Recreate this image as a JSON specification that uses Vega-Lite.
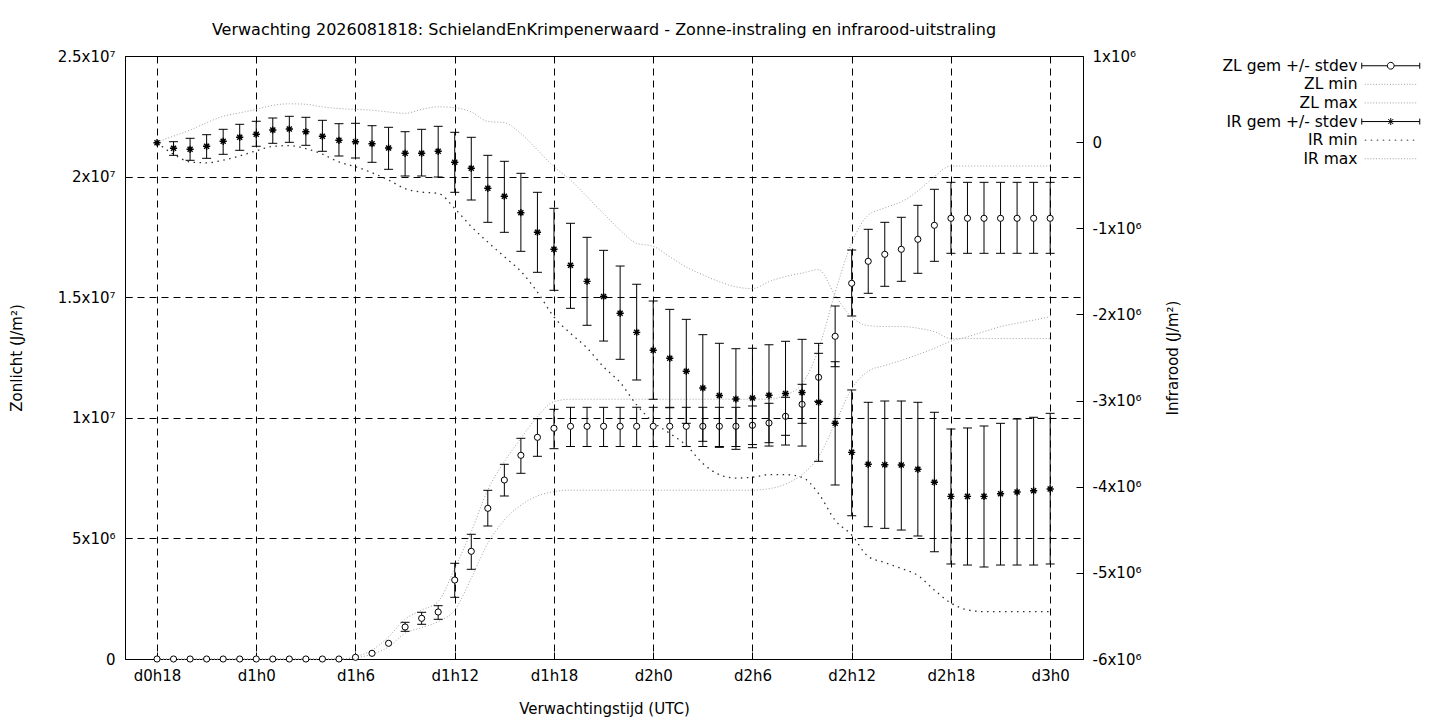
{
  "$schema": "https://vega.github.io/schema/vega-lite/v6.json",
  "width": 958,
  "height": 603,
  "autosize": {"type": "none"},
  "padding": {"left": 125, "top": 56, "right": 357, "bottom": 61},
  "background": "white",
  "title": {
    "text": "Verwachting 2026081818: SchielandEnKrimpenerwaard - Zonne-instraling en infrarood-uitstraling",
    "fontSize": 16, "fontWeight": "normal", "font": "DejaVu Sans", "color": "black",
    "anchor": "middle", "offset": 11
  },
  "data": {"values": [
    {"h":18,"zl":0,"zl_lo":null,"zl_hi":null,"zl_min":0,"zl_max":0,"ir":-6500,"ir_lo":null,"ir_hi":null,"ir_min":-7000,"ir_max":0},
    {"h":19,"zl":0,"zl_lo":null,"zl_hi":null,"zl_min":0,"zl_max":0,"ir":-71500,"ir_lo":-152800,"ir_hi":5100,"ir_min":-140000,"ir_max":70000},
    {"h":20,"zl":0,"zl_lo":null,"zl_hi":null,"zl_min":0,"zl_max":0,"ir":-83100,"ir_lo":-210800,"ir_hi":44600,"ir_min":-230000,"ir_max":140000},
    {"h":21,"zl":0,"zl_lo":null,"zl_hi":null,"zl_min":0,"zl_max":0,"ir":-48300,"ir_lo":-187600,"ir_hi":86400,"ir_min":-240000,"ir_max":226000},
    {"h":22,"zl":0,"zl_lo":null,"zl_hi":null,"zl_min":0,"zl_max":0,"ir":9800,"ir_lo":-141200,"ir_hi":149000,"ir_min":-210000,"ir_max":300000},
    {"h":23,"zl":0,"zl_lo":null,"zl_hi":null,"zl_min":0,"zl_max":0,"ir":56200,"ir_lo":-94700,"ir_hi":207100,"ir_min":-160000,"ir_max":340000},
    {"h":24,"zl":0,"zl_lo":null,"zl_hi":null,"zl_min":0,"zl_max":0,"ir":91000,"ir_lo":-48300,"ir_hi":241900,"ir_min":-100000,"ir_max":380000},
    {"h":25,"zl":0,"zl_lo":null,"zl_hi":null,"zl_min":0,"zl_max":0,"ir":140900,"ir_lo":-13500,"ir_hi":280200,"ir_min":-50000,"ir_max":427000},
    {"h":26,"zl":0,"zl_lo":null,"zl_hi":null,"zl_min":0,"zl_max":0,"ir":152500,"ir_lo":-1900,"ir_hi":300000,"ir_min":-40000,"ir_max":445000},
    {"h":27,"zl":0,"zl_lo":null,"zl_hi":null,"zl_min":0,"zl_max":0,"ir":121200,"ir_lo":-36700,"ir_hi":288400,"ir_min":-75000,"ir_max":440000},
    {"h":28,"zl":0,"zl_lo":null,"zl_hi":null,"zl_min":0,"zl_max":0,"ir":67800,"ir_lo":-106300,"ir_hi":253500,"ir_min":-140000,"ir_max":410000},
    {"h":29,"zl":0,"zl_lo":null,"zl_hi":null,"zl_min":0,"zl_max":0,"ir":21400,"ir_lo":-160900,"ir_hi":214100,"ir_min":-230000,"ir_max":390000},
    {"h":30,"zl":70000,"zl_lo":null,"zl_hi":null,"zl_min":50000,"zl_max":100000,"ir":5100,"ir_lo":-184100,"ir_hi":218700,"ir_min":-285000,"ir_max":380000},
    {"h":31,"zl":236000,"zl_lo":null,"zl_hi":null,"zl_min":200000,"zl_max":370000,"ir":-18100,"ir_lo":-234000,"ir_hi":190900,"ir_min":-355000,"ir_max":370000},
    {"h":32,"zl":651000,"zl_lo":null,"zl_hi":null,"zl_min":500000,"zl_max":920000,"ir":-68000,"ir_lo":-315300,"ir_hi":172300,"ir_min":-440000,"ir_max":350000},
    {"h":33,"zl":1327000,"zl_lo":1148000,"zl_hi":1522000,"zl_min":1070000,"zl_max":1650000,"ir":-129600,"ir_lo":-393100,"ir_hi":121200,"ir_min":-540000,"ir_max":334000},
    {"h":34,"zl":1687000,"zl_lo":1439000,"zl_hi":1936000,"zl_min":1300000,"zl_max":2030000,"ir":-129600,"ir_lo":-393100,"ir_hi":149000,"ir_min":-580000,"ir_max":380000},
    {"h":35,"zl":1949000,"zl_lo":1646000,"zl_hi":2210000,"zl_min":1550000,"zl_max":2380000,"ir":-106300,"ir_lo":-404700,"ir_hi":183900,"ir_min":-595000,"ir_max":410000},
    {"h":36,"zl":3275000,"zl_lo":2558000,"zl_hi":3968000,"zl_min":2030000,"zl_max":3760000,"ir":-234000,"ir_lo":-582300,"ir_hi":114200,"ir_min":-770000,"ir_max":400000},
    {"h":37,"zl":4465000,"zl_lo":3719000,"zl_hi":5170000,"zl_min":3350000,"zl_max":5280000,"ir":-303700,"ir_lo":-671700,"ir_hi":56200,"ir_min":-980000,"ir_max":350000},
    {"h":38,"zl":6248000,"zl_lo":5514000,"zl_hi":6994000,"zl_min":4800000,"zl_max":7010000,"ir":-535900,"ir_lo":-930600,"ir_hi":-152800,"ir_min":-1160000,"ir_max":240000},
    {"h":39,"zl":7421000,"zl_lo":6758000,"zl_hi":8072000,"zl_min":5760000,"zl_max":8180000,"ir":-628700,"ir_lo":-1046700,"ir_hi":-222400,"ir_min":-1330000,"ir_max":226000},
    {"h":40,"zl":8445000,"zl_lo":7699000,"zl_hi":9150000,"zl_min":6380000,"zl_max":9150000,"ir":-819100,"ir_lo":-1267300,"ir_hi":-361700,"ir_min":-1500000,"ir_max":100000},
    {"h":41,"zl":9191000,"zl_lo":8404000,"zl_hi":9963000,"zl_min":6760000,"zl_max":10050000,"ir":-1046700,"ir_lo":-1511000,"ir_hi":-582300,"ir_min":-1740000,"ir_max":-90000},
    {"h":42,"zl":9565000,"zl_lo":8719000,"zl_hi":10352000,"zl_min":6940000,"zl_max":10670000,"ir":-1244000,"ir_lo":-1720000,"ir_hi":-768000,"ir_min":-2030000,"ir_max":-285000},
    {"h":43,"zl":9648000,"zl_lo":8810000,"zl_hi":10435000,"zl_min":7000000,"zl_max":10770000,"ir":-1430000,"ir_lo":-1929000,"ir_hi":-942000,"ir_min":-2220000,"ir_max":-440000},
    {"h":44,"zl":9648000,"zl_lo":8810000,"zl_hi":10435000,"zl_min":7000000,"zl_max":10770000,"ir":-1616000,"ir_lo":-2126000,"ir_hi":-1105000,"ir_min":-2390000,"ir_max":-633000},
    {"h":45,"zl":9648000,"zl_lo":8810000,"zl_hi":10435000,"zl_min":7000000,"zl_max":10770000,"ir":-1792000,"ir_lo":-2309000,"ir_hi":-1256000,"ir_min":-2610000,"ir_max":-830000},
    {"h":46,"zl":9648000,"zl_lo":8810000,"zl_hi":10435000,"zl_min":7000000,"zl_max":10770000,"ir":-1987000,"ir_lo":-2521000,"ir_hi":-1438000,"ir_min":-2790000,"ir_max":-1020000},
    {"h":47,"zl":9648000,"zl_lo":8810000,"zl_hi":10435000,"zl_min":7000000,"zl_max":10770000,"ir":-2208000,"ir_lo":-2761000,"ir_hi":-1650000,"ir_min":-3050000,"ir_max":-1175000},
    {"h":48,"zl":9648000,"zl_lo":8810000,"zl_hi":10435000,"zl_min":7000000,"zl_max":10770000,"ir":-2415000,"ir_lo":-2985000,"ir_hi":-1844000,"ir_min":-3250000,"ir_max":-1210000},
    {"h":49,"zl":9648000,"zl_lo":8810000,"zl_hi":10435000,"zl_min":7000000,"zl_max":10770000,"ir":-2509000,"ir_lo":-3083000,"ir_hi":-1941000,"ir_min":-3380000,"ir_max":-1330000},
    {"h":50,"zl":9648000,"zl_lo":8810000,"zl_hi":10435000,"zl_min":7000000,"zl_max":10770000,"ir":-2660000,"ir_lo":-3264000,"ir_hi":-2057000,"ir_min":-3520000,"ir_max":-1450000},
    {"h":51,"zl":9648000,"zl_lo":8810000,"zl_hi":10435000,"zl_min":7000000,"zl_max":10770000,"ir":-2854000,"ir_lo":-3473000,"ir_hi":-2235000,"ir_min":-3730000,"ir_max":-1540000},
    {"h":52,"zl":9648000,"zl_lo":8810000,"zl_hi":10435000,"zl_min":7000000,"zl_max":10770000,"ir":-2941000,"ir_lo":-3543000,"ir_hi":-2335000,"ir_min":-3860000,"ir_max":-1620000},
    {"h":53,"zl":9648000,"zl_lo":8810000,"zl_hi":10435000,"zl_min":7000000,"zl_max":10770000,"ir":-2982000,"ir_lo":-3566000,"ir_hi":-2398000,"ir_min":-3900000,"ir_max":-1680000},
    {"h":54,"zl":9689000,"zl_lo":8890000,"zl_hi":10490000,"zl_min":7000000,"zl_max":10770000,"ir":-2970000,"ir_lo":-3547000,"ir_hi":-2393000,"ir_min":-3890000,"ir_max":-1700000},
    {"h":55,"zl":9784000,"zl_lo":8968000,"zl_hi":10601000,"zl_min":7060000,"zl_max":10770000,"ir":-2939000,"ir_lo":-3528000,"ir_hi":-2352000,"ir_min":-3860000,"ir_max":-1620000},
    {"h":56,"zl":10062000,"zl_lo":9274000,"zl_hi":10850000,"zl_min":7250000,"zl_max":10950000,"ir":-2918000,"ir_lo":-3516000,"ir_hi":-2312000,"ir_min":-3860000,"ir_max":-1560000},
    {"h":57,"zl":10560000,"zl_lo":9772000,"zl_hi":11389000,"zl_min":7650000,"zl_max":11400000,"ir":-2906000,"ir_lo":-3528000,"ir_hi":-2289000,"ir_min":-3890000,"ir_max":-1520000},
    {"h":58,"zl":11679000,"zl_lo":10684000,"zl_hi":12674000,"zl_min":8390000,"zl_max":12850000,"ir":-3020000,"ir_lo":-3705000,"ir_hi":-2336000,"ir_min":-4080000,"ir_max":-1480000},
    {"h":59,"zl":13379000,"zl_lo":12118000,"zl_hi":14635000,"zl_min":9770000,"zl_max":15200000,"ir":-3264000,"ir_lo":-3980000,"ir_hi":-2549000,"ir_min":-4390000,"ir_max":-1780000},
    {"h":60,"zl":15576000,"zl_lo":14220000,"zl_hi":16957000,"zl_min":11200000,"zl_max":17250000,"ir":-3601000,"ir_lo":-4337000,"ir_hi":-2877000,"ir_min":-4560000,"ir_max":-2030000},
    {"h":61,"zl":16488000,"zl_lo":15162000,"zl_hi":17815000,"zl_min":11930000,"zl_max":18400000,"ir":-3740000,"ir_lo":-4464000,"ir_hi":-3020000,"ir_min":-4810000,"ir_max":-2130000},
    {"h":62,"zl":16778000,"zl_lo":15452000,"zl_hi":18105000,"zl_min":12170000,"zl_max":18700000,"ir":-3745000,"ir_lo":-4483000,"ir_hi":-3005000,"ir_min":-4880000,"ir_max":-2140000},
    {"h":63,"zl":16986000,"zl_lo":15659000,"zl_hi":18313000,"zl_min":12380000,"zl_max":18960000,"ir":-3748000,"ir_lo":-4503000,"ir_hi":-3005000,"ir_min":-4950000,"ir_max":-2140000},
    {"h":64,"zl":17400000,"zl_lo":15991000,"zl_hi":18810000,"zl_min":12620000,"zl_max":19400000,"ir":-3798000,"ir_lo":-4572000,"ir_hi":-3020000,"ir_min":-5030000,"ir_max":-2160000},
    {"h":65,"zl":17981000,"zl_lo":16488000,"zl_hi":19474000,"zl_min":12880000,"zl_max":20000000,"ir":-3949000,"ir_lo":-4755000,"ir_hi":-3136000,"ir_min":-5200000,"ir_max":-2200000},
    {"h":66,"zl":18271000,"zl_lo":16820000,"zl_hi":19763000,"zl_min":13180000,"zl_max":20440000,"ir":-4112000,"ir_lo":-4897000,"ir_hi":-3330000,"ir_min":-5350000,"ir_max":-2280000},
    {"h":67,"zl":18271000,"zl_lo":16820000,"zl_hi":19763000,"zl_min":13360000,"zl_max":20440000,"ir":-4112000,"ir_lo":-4909000,"ir_hi":-3318000,"ir_min":-5430000,"ir_max":-2280000},
    {"h":68,"zl":18271000,"zl_lo":16820000,"zl_hi":19763000,"zl_min":13570000,"zl_max":20440000,"ir":-4112000,"ir_lo":-4932000,"ir_hi":-3295000,"ir_min":-5450000,"ir_max":-2280000},
    {"h":69,"zl":18271000,"zl_lo":16820000,"zl_hi":19763000,"zl_min":13780000,"zl_max":20440000,"ir":-4081000,"ir_lo":-4909000,"ir_hi":-3264000,"ir_min":-5450000,"ir_max":-2280000},
    {"h":70,"zl":18271000,"zl_lo":16820000,"zl_hi":19763000,"zl_min":13920000,"zl_max":20440000,"ir":-4062000,"ir_lo":-4909000,"ir_hi":-3214000,"ir_min":-5450000,"ir_max":-2280000},
    {"h":71,"zl":18271000,"zl_lo":16820000,"zl_hi":19763000,"zl_min":14050000,"zl_max":20440000,"ir":-4046000,"ir_lo":-4909000,"ir_hi":-3194000,"ir_min":-5450000,"ir_max":-2280000},
    {"h":72,"zl":18271000,"zl_lo":16820000,"zl_hi":19763000,"zl_min":14190000,"zl_max":20440000,"ir":-4027000,"ir_lo":-4897000,"ir_hi":-3148000,"ir_min":-5450000,"ir_max":-2280000}
  ]},
  "layer": [
    {
      "layer": [
        {
          "mark": {"type": "line", "stroke": "#a0a0a0", "strokeDash": [1, 2], "strokeWidth": 1, "interpolate": "monotone"},
          "encoding": {
            "x": {
              "field": "h", "type": "quantitative",
              "scale": {"domain": [16.065, 73.985], "nice": false, "zero": false},
              "axis": {
                "title": "Verwachtingstijd (UTC)",
                "values": [18, 24, 30, 36, 42, 48, 54, 60, 66, 72],
                "labelExpr": "'d' + floor(datum.value / 24) + 'h' + (datum.value % 24)",
                "grid": true, "gridColor": "black", "gridDash": [7, 5], "gridOpacity": 1, "gridWidth": 1,
                "tickSize": -7, "labelPadding": 16, "titlePadding": 18
              }
            },
            "y": {
              "field": "zl_min", "type": "quantitative",
              "scale": {"domain": [0, 25000000], "nice": false},
              "axis": {
                "orient": "left",
                "title": "Zonlicht (J/m²)",
                "values": [0, 5000000, 10000000, 15000000, 20000000, 25000000],
                "labelExpr": "datum.value == 0 ? '0' : datum.value < 10000000 ? (datum.value / 1000000) + 'x10⁶' : (datum.value / 10000000) + 'x10⁷'",
                "grid": true, "gridColor": "black", "gridDash": [7, 5], "gridOpacity": 1, "gridWidth": 1,
                "tickSize": -7, "labelPadding": 17, "titlePadding": 33
              }
            }
          }
        },
        {
          "mark": {"type": "line", "stroke": "#a0a0a0", "strokeDash": [1, 2], "strokeWidth": 1, "interpolate": "monotone"},
          "encoding": {
            "x": {"field": "h", "type": "quantitative"},
            "y": {"field": "zl_max", "type": "quantitative", "scale": {"domain": [0, 25000000], "nice": false}}
          }
        },
        {
          "mark": {"type": "rule", "color": "black", "strokeWidth": 1},
          "encoding": {
            "x": {"field": "h", "type": "quantitative"},
            "y": {"field": "zl_lo", "type": "quantitative", "scale": {"domain": [0, 25000000], "nice": false}},
            "y2": {"field": "zl_hi"}
          }
        },
        {
          "mark": {"type": "tick", "orient": "horizontal", "size": 9, "thickness": 1, "color": "black", "opacity": 1},
          "encoding": {
            "x": {"field": "h", "type": "quantitative"},
            "y": {"field": "zl_lo", "type": "quantitative", "scale": {"domain": [0, 25000000], "nice": false}}
          }
        },
        {
          "mark": {"type": "tick", "orient": "horizontal", "size": 9, "thickness": 1, "color": "black", "opacity": 1},
          "encoding": {
            "x": {"field": "h", "type": "quantitative"},
            "y": {"field": "zl_hi", "type": "quantitative", "scale": {"domain": [0, 25000000], "nice": false}}
          }
        },
        {
          "mark": {"type": "point", "shape": "circle", "size": 38, "filled": true, "fill": "white", "stroke": "black", "strokeWidth": 1, "opacity": 1},
          "encoding": {
            "x": {"field": "h", "type": "quantitative"},
            "y": {"field": "zl", "type": "quantitative", "scale": {"domain": [0, 25000000], "nice": false}}
          }
        }
      ]
    },
    {
      "layer": [
        {
          "mark": {"type": "line", "stroke": "#303030", "strokeDash": [1.5, 4.5], "strokeWidth": 1.3, "interpolate": "monotone"},
          "encoding": {
            "x": {"field": "h", "type": "quantitative"},
            "y": {
              "field": "ir_min", "type": "quantitative",
              "scale": {"domain": [-6000000, 1000000], "nice": false, "zero": false},
              "axis": {
                "orient": "right",
                "title": "Infrarood (J/m²)",
                "titleAngle": 270,
                "values": [-6000000, -5000000, -4000000, -3000000, -2000000, -1000000, 0, 1000000],
                "labelExpr": "datum.value == 0 ? '0' : (datum.value / 1000000) + 'x10⁶'",
                "grid": false, "tickSize": -7, "labelPadding": 16, "titlePadding": 40
              }
            }
          }
        },
        {
          "mark": {"type": "line", "stroke": "#a0a0a0", "strokeDash": [1, 2], "strokeWidth": 1, "interpolate": "monotone"},
          "encoding": {
            "x": {"field": "h", "type": "quantitative"},
            "y": {"field": "ir_max", "type": "quantitative", "scale": {"domain": [-6000000, 1000000], "nice": false, "zero": false}}
          }
        },
        {
          "mark": {"type": "rule", "color": "black", "strokeWidth": 1},
          "encoding": {
            "x": {"field": "h", "type": "quantitative"},
            "y": {"field": "ir_lo", "type": "quantitative", "scale": {"domain": [-6000000, 1000000], "nice": false, "zero": false}},
            "y2": {"field": "ir_hi"}
          }
        },
        {
          "mark": {"type": "tick", "orient": "horizontal", "size": 9, "thickness": 1, "color": "black", "opacity": 1},
          "encoding": {
            "x": {"field": "h", "type": "quantitative"},
            "y": {"field": "ir_lo", "type": "quantitative", "scale": {"domain": [-6000000, 1000000], "nice": false, "zero": false}}
          }
        },
        {
          "mark": {"type": "tick", "orient": "horizontal", "size": 9, "thickness": 1, "color": "black", "opacity": 1},
          "encoding": {
            "x": {"field": "h", "type": "quantitative"},
            "y": {"field": "ir_hi", "type": "quantitative", "scale": {"domain": [-6000000, 1000000], "nice": false, "zero": false}}
          }
        },
        {
          "mark": {"type": "point", "shape": "M-1,0L1,0M0,-1L0,1M-0.7,-0.7L0.7,0.7M-0.7,0.7L0.7,-0.7", "size": 52, "filled": false, "stroke": "black", "strokeWidth": 1.4, "opacity": 1},
          "encoding": {
            "x": {"field": "h", "type": "quantitative"},
            "y": {"field": "ir", "type": "quantitative", "scale": {"domain": [-6000000, 1000000], "nice": false, "zero": false}}
          }
        }
      ]
    },
    {
      "data": {"values": [
        {"s": "ZL gem +/- stdev"},
        {"s": "ZL min"},
        {"s": "ZL max"},
        {"s": "IR gem +/- stdev"},
        {"s": "IR min"},
        {"s": "IR max"}
      ]},
      "mark": {"type": "point", "filled": false, "opacity": 0},
      "encoding": {
        "shape": {
          "field": "s", "type": "nominal",
          "scale": {
            "domain": ["ZL gem +/- stdev", "ZL min", "ZL max", "IR gem +/- stdev", "IR min", "IR max"],
            "range": [
              "M-5.8,-0.6L-5.8,0.6M-5.8,0L-0.68,0M0.68,0L5.8,0M5.8,-0.6L5.8,0.6M0.68,0A0.68,0.68,0,1,1,-0.68,0A0.68,0.68,0,1,1,0.68,0",
              "M-5.2,0h0.2M-4.64,0h0.2M-4.08,0h0.2M-3.52,0h0.2M-2.96,0h0.2M-2.4,0h0.2M-1.84,0h0.2M-1.28,0h0.2M-0.72,0h0.2M-0.16,0h0.2M0.4,0h0.2M0.96,0h0.2M1.52,0h0.2M2.08,0h0.2M2.64,0h0.2M3.2,0h0.2M3.76,0h0.2M4.32,0h0.2M4.88,0h0.2",
              "M-5.2,0h0.2M-4.64,0h0.2M-4.08,0h0.2M-3.52,0h0.2M-2.96,0h0.2M-2.4,0h0.2M-1.84,0h0.2M-1.28,0h0.2M-0.72,0h0.2M-0.16,0h0.2M0.4,0h0.2M0.96,0h0.2M1.52,0h0.2M2.08,0h0.2M2.64,0h0.2M3.2,0h0.2M3.76,0h0.2M4.32,0h0.2M4.88,0h0.2",
              "M-5.8,-0.6L-5.8,0.6M-5.8,0L5.8,0M5.8,-0.6L5.8,0.6M-0.7,0L0.7,0M0,-0.7L0,0.7M-0.5,-0.5L0.5,0.5M-0.5,0.5L0.5,-0.5",
              "M-5.2,0h0.3M-4,0h0.3M-2.8,0h0.3M-1.6,0h0.3M-0.4,0h0.3M0.8,0h0.3M2,0h0.3M3.2,0h0.3M4.4,0h0.3",
              "M-5.2,0h0.2M-4.64,0h0.2M-4.08,0h0.2M-3.52,0h0.2M-2.96,0h0.2M-2.4,0h0.2M-1.84,0h0.2M-1.28,0h0.2M-0.72,0h0.2M-0.16,0h0.2M0.4,0h0.2M0.96,0h0.2M1.52,0h0.2M2.08,0h0.2M2.64,0h0.2M3.2,0h0.2M3.76,0h0.2M4.32,0h0.2M4.88,0h0.2"
            ]
          },
          "legend": {
            "orient": "none", "legendX": 1258, "legendY": 2, "title": null,
            "labelFont": "DejaVu Sans", "labelFontSize": 15.5, "labelColor": "black",
            "labelAlign": "right", "labelOffset": -41, "labelLimit": 0,
            "symbolSize": 100, "symbolStrokeWidth": 1, "symbolOpacity": 1, "rowPadding": 1.6
          }
        },
        "color": {
          "field": "s", "type": "nominal",
          "scale": {
            "domain": ["ZL gem +/- stdev", "ZL min", "ZL max", "IR gem +/- stdev", "IR min", "IR max"],
            "range": ["black", "#a0a0a0", "#a0a0a0", "black", "#303030", "#a0a0a0"]
          }
        }
      }
    }
  ],
  "resolve": {"scale": {"y": "independent"}},
  "config": {
    "font": "DejaVu Sans",
    "view": {"stroke": "black", "strokeWidth": 1},
    "axis": {
      "domain": false,
      "labelFont": "DejaVu Sans", "labelFontSize": 15, "labelColor": "black",
      "titleFont": "DejaVu Sans", "titleFontSize": 15, "titleFontWeight": "normal", "titleColor": "black",
      "tickColor": "black", "tickWidth": 1
    }
  }
}
